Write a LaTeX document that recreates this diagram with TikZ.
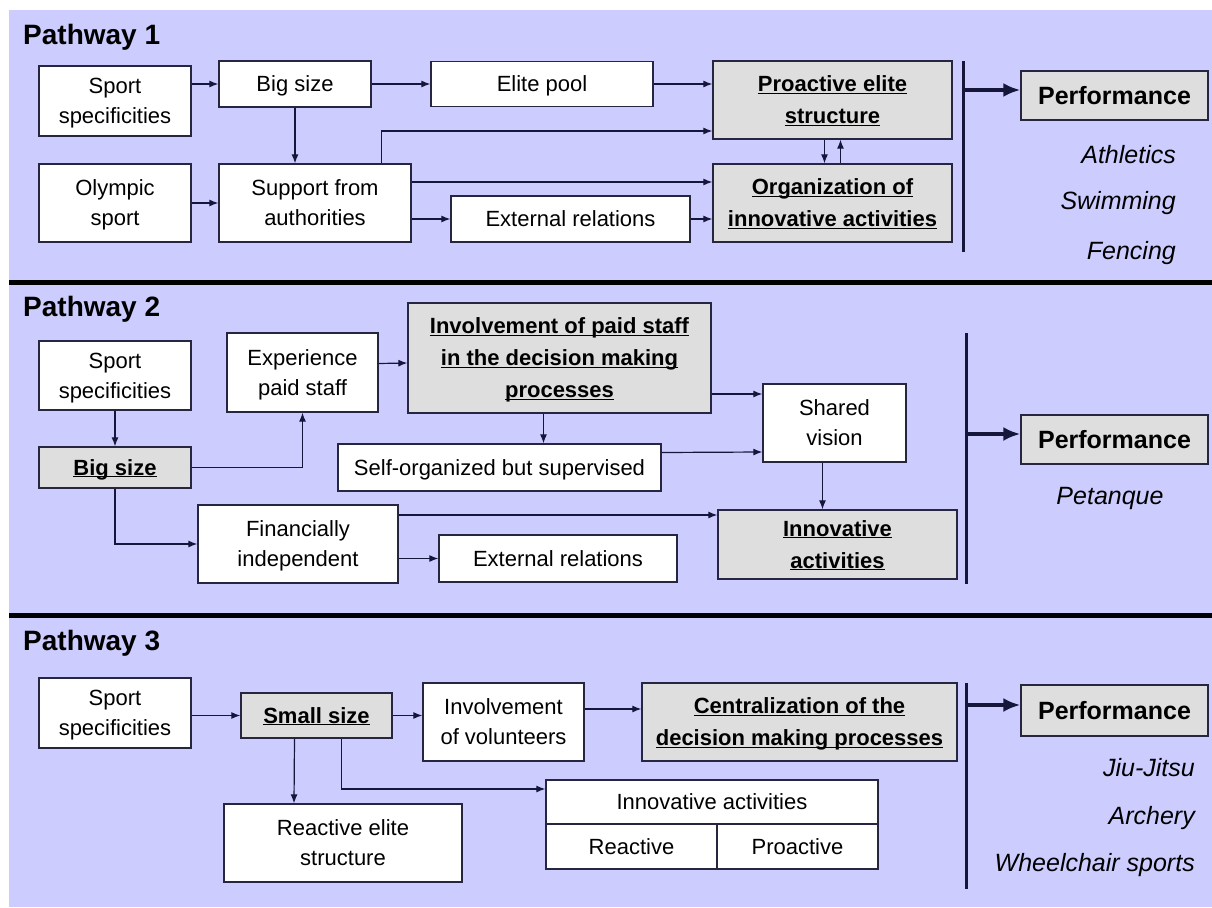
\documentclass[tikz,border=0pt]{standalone}
\usepackage{fontspec}
\setmainfont{Liberation Sans}
\usetikzlibrary{calc,arrows.meta}

\definecolor{lavender}{RGB}{204,204,255}
\definecolor{boxgray}{RGB}{222,222,222}
\definecolor{edge}{RGB}{38,38,64}
\definecolor{ink}{RGB}{22,22,58}
\newcommand{\ul}[1]{\underline{\vphantom{A}\smash{#1}}}

\begin{document}
\begin{tikzpicture}[x=1pt,y=-1pt]
\tikzstyle{box}=[draw=edge, fill=white, line width=1.3pt, inner sep=0pt,
  text depth=0pt, align=center, font=\fontsize{22}{30}\selectfont]
\tikzstyle{keybox}=[box, fill=boxgray, font=\fontsize{22}{32}\selectfont\bfseries]
\tikzstyle{perf}=[box, fill=boxgray, font=\fontsize{25}{30}\selectfont\bfseries]
\tikzstyle{title}=[anchor=west, inner sep=0pt, font=\fontsize{28}{32}\selectfont\bfseries]
\tikzstyle{sport}=[anchor=east, inner sep=0pt, font=\fontsize{25}{30}\selectfont\itshape]
\tikzstyle{link}=[->, >={Latex[length=9pt,width=7pt]}, draw=ink, line width=1.2pt]
\tikzstyle{fat}=[->, >={Latex[length=17pt,width=14pt]}, draw=ink, line width=4pt]
\tikzstyle{vbar}=[draw=ink, line width=3pt]
\tikzstyle{sepline}=[draw=black, line width=5pt]

\useasboundingbox (0,0) rectangle (1212,907);
\fill[lavender] (9,10) rectangle (1212,907);
\draw[sepline] (9,282.5) -- (1212,282.5);
\draw[sepline] (9,615) -- (1212,615);

% Pathway 1
\node[title] (p1) at (23,37) {Pathway 1};
\node[box, minimum width=152, minimum height=70] (sport1) at (115,101) {Sport\\specificities};
\node[box, minimum width=152, minimum height=46] (big1) at (295,84) {Big size};
\node[box, minimum width=222, minimum height=45] (elite1) at (542,84) {Elite pool};
\node[keybox, minimum width=239, minimum height=78] (proact1) at (832.5,100) {\ul{Proactive elite}\\\ul{structure}};
\node[box, minimum width=152, minimum height=78] (olymp1) at (115,203) {Olympic\\sport};
\node[box, minimum width=192, minimum height=78] (support1) at (315,203) {Support from\\authorities};
\node[box, minimum width=239, minimum height=46] (ext1) at (570.5,219) {External relations};
\node[keybox, minimum width=239, minimum height=78] (org1) at (832.5,203) {\ul{Organization of}\\\ul{innovative activities}};
\node[perf, minimum width=187, minimum height=49] (perf1) at (1114.5,95.5) {Performance};
\node[sport] (ath1) at (1176,155) {Athletics};
\node[sport] (swim1) at (1176,203) {Swimming};
\node[sport] (fenc1) at (1176,253) {Fencing};

\draw[link] (sport1.east |- big1.west) -- (big1.west);
\draw[link] (big1) -- (elite1);
\draw[link] (elite1.east) -- (elite1.east -| proact1.west);
\draw[link] (big1.south) -- (big1.south |- support1.north);
\draw[link] (olymp1) -- (support1);
\draw[link] ($(support1.north east)+(-30,0)$) |- ($(proact1.west)+(0,31)$);
\draw[link] ($(support1.east)+(0,-21)$) -- ($(org1.west)+(0,-21)$);
\draw[link] (support1.east |- ext1.west) -- (ext1.west);
\draw[link] (ext1.east) -- (ext1.east -| org1.west);
\draw[link] ($(proact1.south)+(-8,0)$) -- ($(org1.north)+(-8,0)$);
\draw[link] ($(org1.north)+(8,0)$) -- ($(proact1.south)+(8,0)$);
\coordinate (bar1) at (963,90);
\draw[vbar] (963,61) -- (963,252);
\draw[fat] (bar1) -- (bar1 -| perf1.west);

% Pathway 2
\node[title] (p2) at (23,309) {Pathway 2};
\node[box, minimum width=152, minimum height=69] (sport2) at (115,375.5) {Sport\\specificities};
\node[keybox, minimum width=152, minimum height=41] (big2) at (115,467.5) {\ul{Big size}};
\node[box, minimum width=151, minimum height=79] (exp2) at (302.5,372.5) {Experience\\paid staff};
\node[keybox, minimum width=303, minimum height=110] (inv2) at (559.5,358) {\ul{Involvement of paid staff}\\\ul{in the decision making}\\\ul{processes}};
\node[box, minimum width=323, minimum height=47] (self2) at (499.5,467.5) {Self-organized but supervised};
\node[box, minimum width=143, minimum height=78] (shared2) at (834.5,423) {Shared\\vision};
\node[box, minimum width=200, minimum height=78] (fin2) at (298,544) {Financially\\independent};
\node[box, minimum width=238, minimum height=47] (ext2) at (558,558.5) {External relations};
\node[keybox, minimum width=239, minimum height=69] (innov2) at (837.5,544.5) {\ul{Innovative}\\\ul{activities}};
\node[perf, minimum width=187, minimum height=49] (perf2) at (1114.5,439.5) {Performance};
\node[sport, anchor=center] (pet2) at (1110,498) {Petanque};

\draw[link] (sport2) -- (big2);
\draw[link] (big2.east) -| (exp2.south);
\draw[link] ($(exp2.east)+(0,-9)$) -- ($(inv2.west)+(0,5)$);
\draw[link] ($(inv2.east)+(0,36)$) -- ($(shared2.west)+(0,-29)$);
\draw[link] ($(inv2.south)+(-16,0)$) -- ($(self2.north)+(44,0)$);
\draw[link] ($(self2.east)+(0,-15)$) -- ($(shared2.west)+(0,29)$);
\draw[link] ($(shared2.south)+(-12,0)$) -- ($(innov2.north)+(-15,0)$);
\draw[link] (big2.south) |- (fin2.west);
\draw[link] ($(fin2.east)+(0,-29)$) -- ($(innov2.west)+(0,-29.5)$);
\draw[link] (fin2.east |- ext2.west) -- (ext2.west);
\coordinate (bar2) at (966,434);
\draw[vbar] (966,333) -- (966,584);
\draw[fat] (bar2) -- (bar2 -| perf2.west);

% Pathway 3
\node[title] (p3) at (23,643) {Pathway 3};
\node[box, minimum width=152, minimum height=70] (sport3) at (115,713) {Sport\\specificities};
\node[keybox, minimum width=151, minimum height=45] (small3) at (316.5,715.5) {\ul{Small size}};
\node[box, minimum width=161, minimum height=78] (vol3) at (503.5,722) {Involvement\\of volunteers};
\node[keybox, minimum width=315, minimum height=78] (cent3) at (799.5,722) {\ul{Centralization of the}\\\ul{decision making processes}};
\node[box, minimum width=238, minimum height=78] (react3) at (343,843) {Reactive elite\\structure};
\node[box, minimum width=332, minimum height=44] (innact3) at (712,802) {Innovative activities};
\node[box, minimum width=171, minimum height=45] (reac3) at (631.5,846.5) {Reactive};
\node[box, minimum width=161, minimum height=45] (proac3) at (797.5,846.5) {Proactive};
\node[perf, minimum width=187, minimum height=51] (perf3) at (1114.5,710.5) {Performance};
\node[sport] (jiu3) at (1195,768) {Jiu-Jitsu};
\node[sport] (arch3) at (1195,818) {Archery};
\node[sport] (wheel3) at (1195,865) {Wheelchair sports};

\draw[link] (sport3.east |- small3.west) -- (small3.west);
\draw[link] (small3.east) -- (small3.east -| vol3.west);
\draw[link] ($(vol3.east)+(0,-13)$) -- ($(cent3.west)+(0,-13)$);
\draw[link] ($(small3.south)+(-22,0)$) -- ($(react3.north)+(-49,0)$);
\draw[link] ($(small3.south)+(25,0)$) |- ($(innact3.west)+(0,-13)$);
\coordinate (bar3) at (966,705);
\draw[vbar] (966,683) -- (966,889);
\draw[fat] (bar3) -- (bar3 -| perf3.west);
\end{tikzpicture}
\end{document}
